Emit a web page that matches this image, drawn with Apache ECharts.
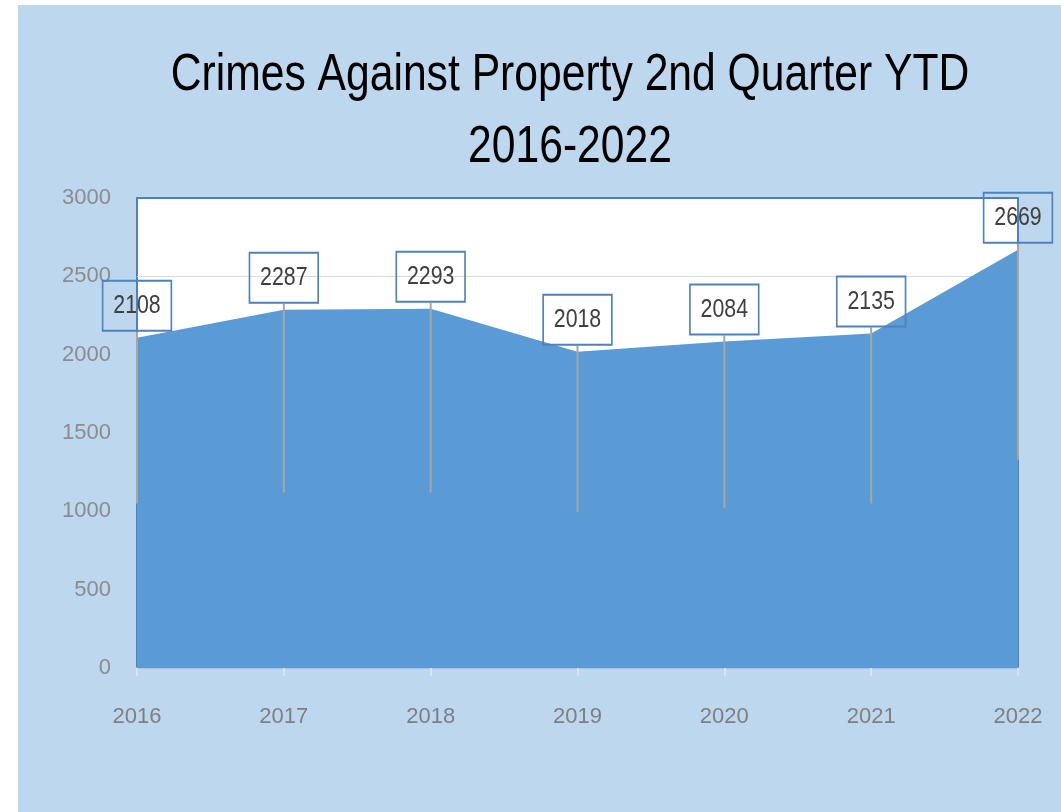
<!DOCTYPE html>
<html>
<head>
<meta charset="utf-8">
<script src="https://cdn.jsdelivr.net/npm/echarts@6/dist/echarts.min.js"></script>
<style>
  html, body { margin: 0; padding: 0; background: #ffffff; }
  #bg { position: absolute; left: 18px; top: 5px; width: 1043px; height: 807px; background: #BDD7EE; }
  #chart { position: absolute; left: 0; top: 0; width: 1061px; height: 812px; }
</style>
</head>
<body>
<div id="bg"></div>
<div id="chart"></div>
<script>
// ---- data ----
const titleLine1 = 'Crimes Against Property 2nd Quarter YTD';
const titleLine2 = '2016-2022';
const years = ['2016', '2017', '2018', '2019', '2020', '2021', '2022'];
const crimes = [2108, 2287, 2293, 2018, 2084, 2135, 2669];
// lower ends of the grey leader lines under each label
const leaderEnds = [1050, 1120, 1120, 995, 1020, 1050, 1330];
const yTicks = [0, 500, 1000, 1500, 2000, 2500, 3000];

const FONT = '"Liberation Sans", Arial, sans-serif';
const labelGap = 6;

const chart = echarts.init(document.getElementById('chart'));

const leaderData = years.map((y, i) => [i, crimes[i], leaderEnds[i]]);

chart.setOption({
  animation: false,
  graphic: [
    {
      type: 'text',
      x: 570, y: 76,
      scaleX: 0.82,
      style: {
        text: titleLine1,
        font: 'normal 52px ' + FONT,
        fill: '#000000',
        align: 'center',
        verticalAlign: 'middle'
      }
    },
    {
      type: 'text',
      x: 570, y: 148,
      scaleX: 0.82,
      style: {
        text: titleLine2,
        font: 'normal 52px ' + FONT,
        fill: '#000000',
        align: 'center',
        verticalAlign: 'middle'
      }
    }
  ],
  grid: {
    left: 137, right: 43, top: 198, bottom: 144,
    show: true,
    backgroundColor: '#ffffff',
    borderColor: '#4F81BD',
    borderWidth: 2
  },
  xAxis: {
    type: 'category',
    data: years,
    boundaryGap: false,
    axisLine: { lineStyle: { color: '#A9C4DE', width: 2 } },
    axisTick: { show: true, length: 8, lineStyle: { color: '#D9E2EC', width: 2 } },
    axisLabel: { color: '#7F7F7F', fontFamily: FONT, fontSize: 22, margin: 38 }
  },
  yAxis: {
    type: 'value',
    min: yTicks[0],
    max: yTicks[yTicks.length - 1],
    interval: yTicks[1] - yTicks[0],
    axisLine: { show: false },
    axisTick: { show: false },
    axisLabel: {
      color: '#8C8C8C', fontFamily: FONT, fontSize: 22, margin: 26,
      formatter: function (v) { return String(v); }
    },
    splitLine: {
      lineStyle: {
        color: ['#D9D9D9', '#D9D9D9', '#D9D9D9', '#D9D9D9', '#D9D9D9', '#D9D9D9', '#4F81BD'],
        width: 1
      }
    }
  },
  series: [
    {
      type: 'line',
      data: crimes,
      symbol: 'none',
      lineStyle: { width: 0, color: '#5B9BD5' },
      areaStyle: { color: '#5B9BD5', opacity: 1 },
      z: 2
    },
    {
      type: 'custom',
      data: leaderData,
      encode: { x: 0, y: 1 },
      clip: false,
      z: 5,
      renderItem: function (params, api) {
        const idx = api.value(0);
        const top = api.coord([idx, api.value(1)]);
        const bot = api.coord([idx, api.value(2)]);
        const boxBottom = top[1] - labelGap;
        return {
          type: 'group',
          children: [
            {
              type: 'line',
              shape: { x1: top[0], y1: boxBottom, x2: bot[0], y2: bot[1] },
              style: { stroke: '#A6A6A6', lineWidth: 2 }
            },
            {
              type: 'text',
              x: top[0],
              y: boxBottom - 26,
              scaleX: 0.82,
              style: {
                text: String(api.value(1)),
                font: '26px ' + FONT,
                fill: '#404040',
                align: 'center',
                verticalAlign: 'middle',
                padding: [12, 13, 12, 13],
                borderColor: '#4F81BD',
                borderWidth: 2
              }
            }
          ]
        };
      }
    }
  ]
});
</script>
</body>
</html>
